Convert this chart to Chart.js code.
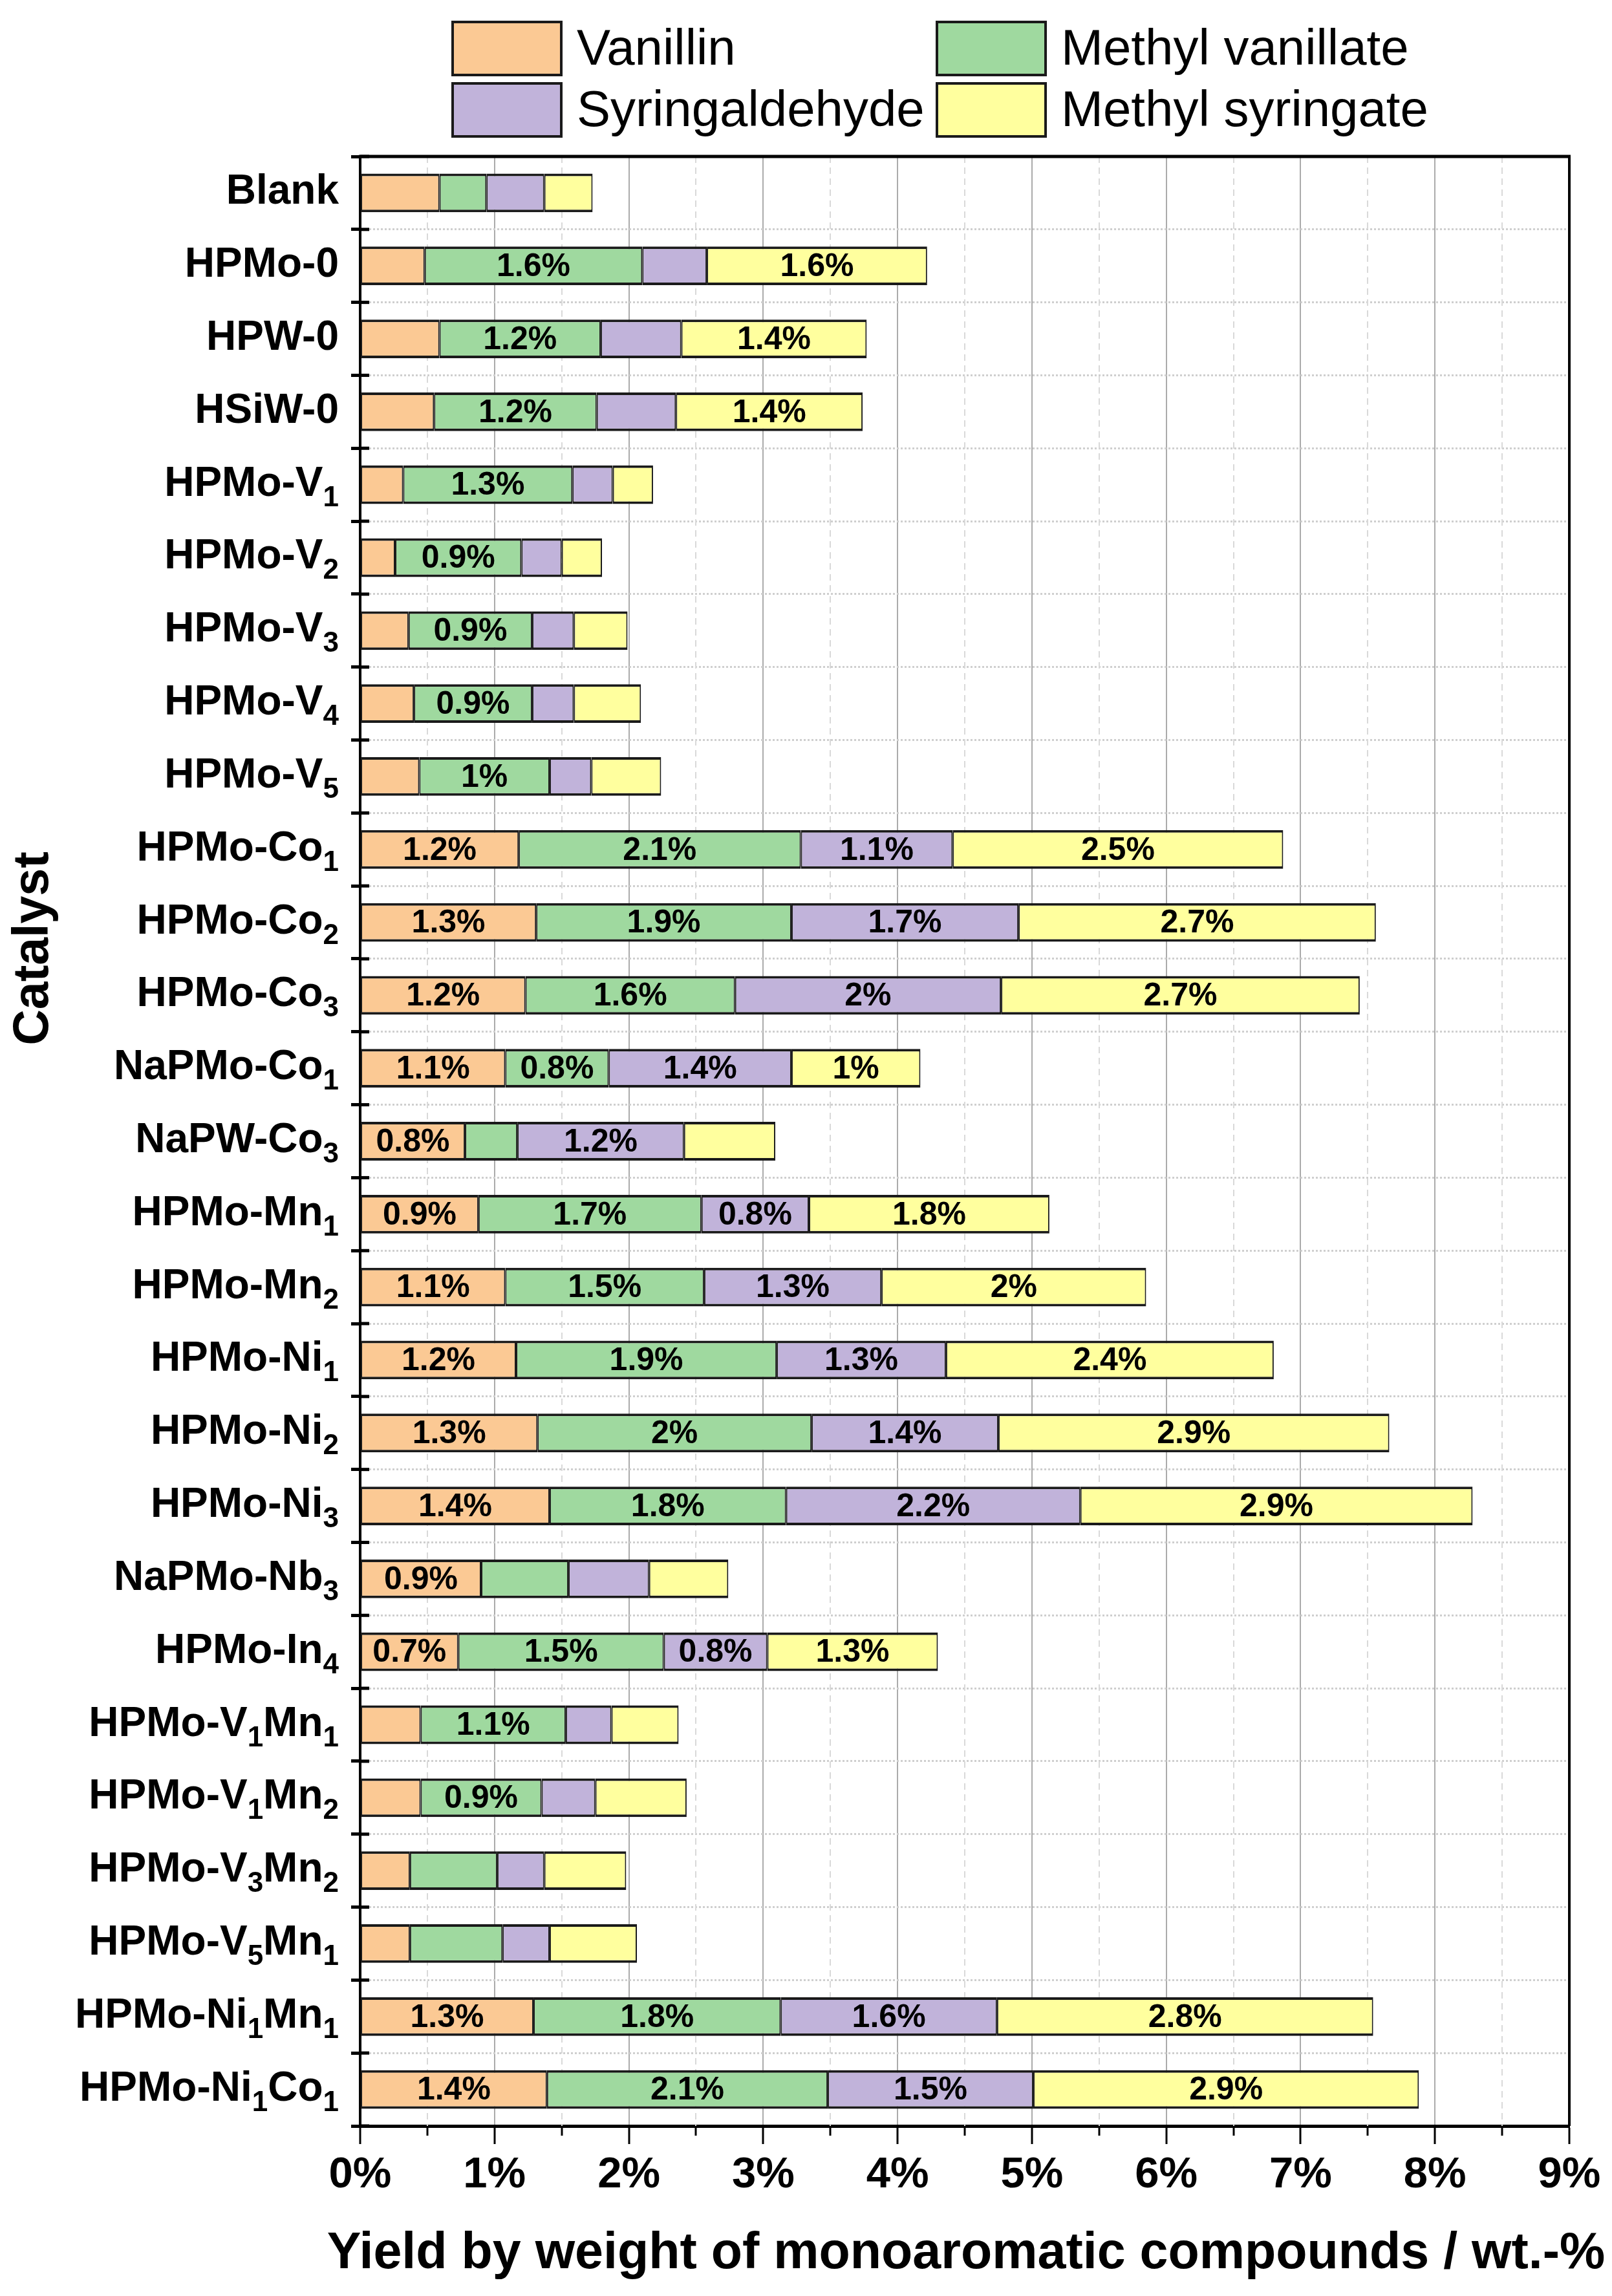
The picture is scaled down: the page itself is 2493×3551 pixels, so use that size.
<!DOCTYPE html>
<html>
<head>
<meta charset="utf-8">
<script src="https://cdn.jsdelivr.net/npm/chart.js@4.4.1/dist/chart.umd.min.js"></script>
<style>
html,body{margin:0;padding:0;background:#fff;}
#wrap{width:2493px;height:3551px;position:relative;}
</style>
</head>
<body>
<div id="wrap"><canvas id="c"></canvas></div>
<script>
// ---------- DATA ----------
const categories = [
  'Blank','HPMo-0','HPW-0','HSiW-0',
  'HPMo-V1','HPMo-V2','HPMo-V3','HPMo-V4','HPMo-V5',
  'HPMo-Co1','HPMo-Co2','HPMo-Co3','NaPMo-Co1','NaPW-Co3',
  'HPMo-Mn1','HPMo-Mn2','HPMo-Ni1','HPMo-Ni2','HPMo-Ni3',
  'NaPMo-Nb3','HPMo-In4','HPMo-V1Mn1','HPMo-V1Mn2','HPMo-V3Mn2',
  'HPMo-V5Mn1','HPMo-Ni1Mn1','HPMo-Ni1Co1'
];
const seriesNames = ['Vanillin','Methyl vanillate','Syringaldehyde','Methyl syringate'];
const vanillin        = [0.59,0.48,0.59,0.55,0.32,0.26,0.36,0.40,0.44,1.18,1.31,1.23,1.08,0.78,0.88,1.08,1.16,1.32,1.41,0.90,0.73,0.45,0.45,0.37,0.37,1.29,1.39];
const methylVanillate = [0.35,1.62,1.20,1.21,1.26,0.94,0.92,0.88,0.97,2.10,1.90,1.56,0.77,0.39,1.66,1.48,1.94,2.04,1.76,0.65,1.53,1.08,0.90,0.65,0.69,1.84,2.09];
const syringaldehyde  = [0.43,0.48,0.60,0.59,0.30,0.30,0.31,0.31,0.31,1.13,1.69,1.98,1.36,1.24,0.80,1.32,1.26,1.39,2.19,0.60,0.77,0.34,0.40,0.35,0.35,1.61,1.53];
const methylSyringate = [0.36,1.64,1.38,1.39,0.30,0.30,0.40,0.50,0.52,2.46,2.66,2.67,0.96,0.68,1.79,1.97,2.44,2.91,2.92,0.59,1.27,0.50,0.68,0.61,0.65,2.80,2.87];
const xMin = 0, xMax = 9, xStep = 1, xMinorStep = 0.5;
const xTitle = 'Yield by weight of monoaromatic compounds / wt.-%';
const yTitle = 'Catalyst';
const labelThreshold = 0.7;

// ---------- STYLE ----------
const FONT = '"Liberation Sans", Arial, Helvetica, sans-serif';
const colors = ['#FBC994','#9FD99F','#C1B3DA','#FFFF9E'];
const seriesData = [vanillin, methylVanillate, syringaldehyde, methylSyringate];

function fmtPct(v){ return (Math.round(v*10)/10) + '%'; }

function splitSub(label){
  const parts = [];
  for (let i=0;i<label.length;i++){
    const ch = label[i];
    const prev = i>0 ? label[i-1] : '';
    const isDigit = /[0-9]/.test(ch);
    const sub = isDigit && (/[A-Za-z]/.test(prev) || (parts.length && parts[parts.length-1].sub && /[0-9]/.test(prev)));
    if (parts.length && parts[parts.length-1].sub === sub) parts[parts.length-1].t += ch;
    else parts.push({t:ch, sub:sub});
  }
  return parts;
}

const decor = {
  id:'decor',
  beforeDatasetsDraw(chart){
    const {ctx, chartArea:a, scales:{x}} = chart;
    ctx.save();
    ctx.strokeStyle = '#d9d9d9';
    ctx.lineWidth = 2;
    ctx.setLineDash([10,7]);
    for (let v = xMin + xMinorStep; v < xMax; v += xStep){
      const px = Math.round(x.getPixelForValue(v));
      ctx.beginPath(); ctx.moveTo(px, a.top); ctx.lineTo(px, a.bottom); ctx.stroke();
    }
    ctx.restore();
  },
  afterDatasetsDraw(chart){
    const {ctx, chartArea:a, scales:{x,y}} = chart;
    // data labels
    ctx.save();
    ctx.fillStyle = '#000';
    ctx.font = 'bold 50px ' + FONT;
    ctx.textAlign = 'center';
    ctx.textBaseline = 'middle';
    chart.data.datasets.forEach((ds, di) => {
      const meta = chart.getDatasetMeta(di);
      meta.data.forEach((el, j) => {
        const v = ds.data[j];
        if (v >= labelThreshold){
          const p = el.getProps(['x','base','y'], true);
          ctx.fillText(fmtPct(v), (p.x + p.base)/2, p.y + 2);
        }
      });
    });
    ctx.restore();

    // frame top & right
    ctx.save();
    ctx.strokeStyle = '#000';
    ctx.lineWidth = 5;
    ctx.beginPath(); ctx.moveTo(a.left-2, a.top); ctx.lineTo(a.right+2, a.top); ctx.stroke();
    ctx.lineWidth = 4;
    ctx.beginPath(); ctx.moveTo(a.right, a.top); ctx.lineTo(a.right, a.bottom); ctx.stroke();
    // inner y ticks at category boundaries
    ctx.lineWidth = 5;
    for (let i=0;i<=categories.length;i++){
      const py = y.getPixelForValue(i - 0.5);
      ctx.beginPath(); ctx.moveTo(a.left, py); ctx.lineTo(a.left + 14, py); ctx.stroke();
    }
    // minor x ticks
    ctx.lineWidth = 3;
    for (let v = xMin + xMinorStep; v < xMax; v += xStep){
      const px = Math.round(x.getPixelForValue(v));
      ctx.beginPath(); ctx.moveTo(px, a.bottom); ctx.lineTo(px, a.bottom + 15); ctx.stroke();
    }
    ctx.restore();
  },
  afterDraw(chart){
    const {ctx, chartArea:a, scales:{y}} = chart;
    // y tick labels with subscripts
    ctx.save();
    ctx.fillStyle = '#000';
    ctx.textAlign = 'left';
    ctx.textBaseline = 'alphabetic';
    const mainF = 'bold 64px ' + FONT, subF = 'bold 44px ' + FONT;
    const rightEdge = 524;
    chart.data.labels.forEach((lab, i) => {
      const yc = y.getPixelForValue(i);
      const parts = splitSub(lab);
      let w = 0;
      parts.forEach(p => { ctx.font = p.sub ? subF : mainF; p.w = ctx.measureText(p.t).width; w += p.w; });
      let xx = rightEdge - w;
      parts.forEach(p => {
        ctx.font = p.sub ? subF : mainF;
        ctx.fillText(p.t, xx, p.sub ? yc + 33 : yc + 17);
        xx += p.w;
      });
    });
    // y title
    ctx.save();
    ctx.translate(53, 1467);
    ctx.rotate(-Math.PI/2);
    ctx.font = 'bold 77px ' + FONT;
    ctx.textAlign = 'center';
    ctx.textBaseline = 'middle';
    ctx.fillText(yTitle, 0, 0);
    ctx.restore();

    // x title
    ctx.font = 'bold 79px ' + FONT;
    ctx.textAlign = 'center';
    ctx.textBaseline = 'middle';
    ctx.fillText(xTitle, (a.left + a.right) / 2 + 2, 3486);

    // legend
    const cols = [700, 1449], rows = [75, 170];
    ctx.font = '78px ' + FONT;
    ctx.textAlign = 'left';
    ctx.textBaseline = 'middle';
    chart.data.datasets.forEach((ds, i) => {
      const cx = cols[i % 2], cy = rows[Math.floor(i / 2)];
      ctx.fillStyle = ds.backgroundColor;
      ctx.fillRect(cx, cy - 41, 168, 82);
      ctx.strokeStyle = '#1a1a1a';
      ctx.lineWidth = 4;
      ctx.strokeRect(cx, cy - 41, 168, 82);
      ctx.fillStyle = '#000';
      ctx.fillText(ds.label, cx + 192, cy + 3);
    });
    ctx.restore();
  }
};

new Chart(document.getElementById('c'), {
  type: 'bar',
  data: {
    labels: categories,
    datasets: seriesNames.map((n, i) => ({
      label: n,
      data: seriesData[i],
      backgroundColor: colors[i],
      borderColor: '#1a1a1a',
      borderWidth: {top: 4, bottom: 4, left: 2, right: 2},
      borderSkipped: false,
      barPercentage: 0.53,
      categoryPercentage: 1
    }))
  },
  options: {
    indexAxis: 'y',
    responsive: true,
    maintainAspectRatio: false,
    devicePixelRatio: 1,
    animation: false,
    layout: {padding: {top: 242, right: 66, bottom: 0, left: 0}},
    plugins: {legend: {display: false}, tooltip: {enabled: false}},
    scales: {
      x: {
        type: 'linear', position: 'bottom', stacked: true, min: xMin, max: xMax,
        ticks: {stepSize: xStep, callback: v => v + '%', font: {family: FONT, size: 67, weight: 'bold'}, color: '#000', padding: 8, maxRotation: 0, autoSkip: false},
        grid: {color: '#ababab', lineWidth: 2, tickColor: '#000', tickLength: 28, tickWidth: 3},
        border: {color: '#000', width: 5},
        title: {display: false},
        afterFit: s => { s.height = 263; }
      },
      y: {
        type: 'category', stacked: true,
        ticks: {display: false},
        grid: {offset: true, color: '#cfcfcf', lineWidth: 3, tickColor: '#000', tickLength: 14, tickWidth: 5},
        border: {color: '#000', width: 4, dash: [3, 3]},
        afterFit: s => { s.width = 557; }
      }
    }
  },
  plugins: [decor]
});
</script>
</body>
</html>
